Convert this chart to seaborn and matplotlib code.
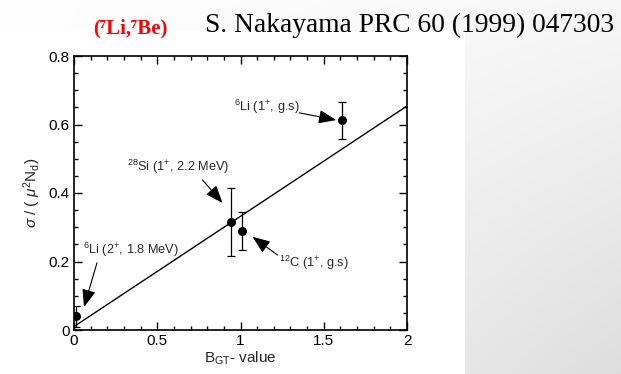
import numpy as np
import pandas as pd
import matplotlib
matplotlib.use("Agg")
import matplotlib.pyplot as plt
import seaborn as sns

# Measured cross sections vs. Gamow-Teller strength
labels = ["6Li(2+,1.8)", "28Si(1+,2.2)", "12C(1+,gs)", "6Li(1+,gs)"]
b_gt = [0.01, 0.94, 1.01, 1.61]
sigma = [0.040, 0.316, 0.290, 0.612]
sigma_err = [0.030, 0.100, 0.055, 0.055]

# Linear proportionality fit
fit_x = [0.0, 2.0]
fit_y = [0.010, 0.654]

x_ticks = [0, 0.5, 1, 1.5, 2]
x_tick_labels = ["0", "0.5", "1", "1.5", "2"]
y_ticks = [0, 0.2, 0.4, 0.6, 0.8]
y_tick_labels = ["0", "0.2", "0.4", "0.6", "0.8"]

# (label, text centre, arrow start, arrow tip) in data units
annotations = [
    (r"$^{6}$Li (1$^{+}$, g.s)", (1.155, 0.651), (1.353, 0.634), (1.575, 0.613)),
    (r"$^{28}$Si (1$^{+}$, 2.2 MeV)", (0.623, 0.476), (0.772, 0.438), (0.892, 0.371)),
    (r"$^{12}$C (1$^{+}$, g.s)", (1.443, 0.196), (1.222, 0.219), (1.072, 0.272)),
    (r"$^{6}$Li (2$^{+}$, 1.8 MeV)", (0.341, 0.234), (0.138, 0.196), (0.060, 0.067)),
]

sns.set_style("ticks")
plt.rcParams["font.family"] = ["Liberation Sans", "DejaVu Sans"]
plt.rcParams["mathtext.fontset"] = "custom"
plt.rcParams["mathtext.rm"] = "Liberation Sans"
plt.rcParams["mathtext.it"] = "Liberation Sans:italic"
plt.rcParams["mathtext.bf"] = "Liberation Sans:bold"

W, H = 621, 374
fig = plt.figure(figsize=(W / 100, H / 100), dpi=100)

# slide background: soft grey gradient with a white panel holding the plot
bg = fig.add_axes([0, 0, 1, 1])
xx, yy = np.meshgrid(np.linspace(0, 1, 300), np.linspace(0, 1, 200))
shade = 1 - 0.03 * xx - 0.10 * xx * yy
bg.imshow(np.dstack([shade] * 3), extent=[0, W, H, 0], aspect="auto")
bg.add_patch(plt.Rectangle((0, 31), 465, H - 31, color="white", lw=0))
bg.set_xlim(0, W)
bg.set_ylim(H, 0)
bg.axis("off")

ax = fig.add_axes([74 / W, 1 - 330 / H, (407 - 74) / W, (330 - 56) / H])
ax.set_facecolor("none")

df = pd.DataFrame({"bgt": b_gt, "sigma": sigma, "err": sigma_err, "label": labels})
fit = pd.DataFrame({"x": fit_x, "y": fit_y})

sns.lineplot(data=fit, x="x", y="y", ax=ax, color="black", lw=1.0)
ax.errorbar(df["bgt"], df["sigma"], yerr=df["err"], fmt="none",
            ecolor="black", elinewidth=0.9, capsize=3, capthick=0.9)
sns.scatterplot(data=df, x="bgt", y="sigma", ax=ax, color="black",
                s=42, edgecolor="black", linewidth=0, zorder=5)

for text, tpos, start, tip in annotations:
    ax.text(tpos[0], tpos[1], text, ha="center", va="center", fontsize=9.2)
    ax.annotate("", xy=tip, xytext=start,
                arrowprops=dict(arrowstyle="-|>,head_length=0.9,head_width=0.35",
                                mutation_scale=12, color="black", lw=0.8,
                                shrinkA=0, shrinkB=0))

ax.set_xlim(0, 2)
ax.set_ylim(0, 0.8)
ax.set_xticks(x_ticks)
ax.set_xticklabels(x_tick_labels)
ax.set_yticks(y_ticks)
ax.set_yticklabels(y_tick_labels)
ax.set_xticks(np.arange(0, 2.001, 0.1), minor=True)
ax.set_yticks(np.arange(0, 0.801, 0.05), minor=True)
ax.tick_params(which="both", direction="in", top=True, right=True,
               labelsize=11, width=1.0, colors="black", pad=3)
ax.tick_params(which="major", length=6)
ax.tick_params(which="minor", length=3)
for s in ax.spines.values():
    s.set_linewidth(1.2)
    s.set_color("black")

ax.set_xlabel(r"B$_{\mathrm{GT}}$- value", fontsize=11, labelpad=1)
ax.set_ylabel(r"$\sigma$ / ( $\mu^{2}$N$_{\mathrm{d}}$)", fontsize=11, labelpad=4)

fig.text(93 / W, 1 - 33 / H, "(\u2077Li,\u2077Be)", color="#ff0000",
         fontsize=15, fontweight="bold", ha="left", va="baseline",
         family=["Liberation Serif", "DejaVu Serif"])
fig.text(205 / W, 1 - 32 / H, "S. Nakayama PRC 60 (1999) 047303",
         color="black", fontsize=19.8, ha="left", va="baseline",
         family=["Liberation Serif", "DejaVu Serif"])

fig.savefig("out.png", dpi=100)
